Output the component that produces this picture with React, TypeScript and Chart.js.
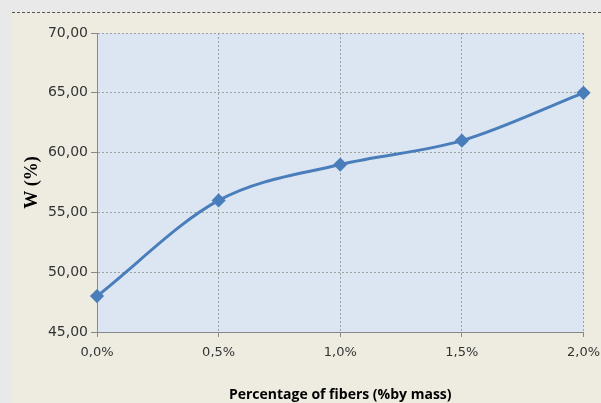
import React, { useEffect, useRef } from "react";
import { Chart, registerables } from "chart.js";

Chart.register(...registerables);

const categories = ["0,0%", "0,5%", "1,0%", "1,5%", "2,0%"];
const wValues = [48, 56, 59, 61, 65];

const plotBg = {
  id: "plotBg",
  beforeDraw(chart: any) {
    const { ctx, chartArea: a } = chart;
    ctx.save();
    ctx.fillStyle = "#dce6f2";
    ctx.fillRect(a.left, a.top, a.right - a.left, a.bottom - a.top);
    ctx.restore();
  },
};

const App = () => {
  const canvasRef = useRef<HTMLCanvasElement | null>(null);

  useEffect(() => {
    const chart = new Chart(canvasRef.current as HTMLCanvasElement, {
      type: "line",
      data: {
        labels: categories,
        datasets: [
          {
            data: wValues,
            borderColor: "#4a7ebb",
            backgroundColor: "#4a7ebb",
            borderWidth: 3,
            tension: 0.4,
            cubicInterpolationMode: "monotone",
            pointStyle: "rectRot",
            pointRadius: 5,
          },
        ],
      },
      options: {
        animation: false,
        responsive: false,
        layout: { padding: { top: 20, right: 0, left: 10, bottom: 0 } },
        plugins: { legend: { display: false }, tooltip: { enabled: false } },
        scales: {
          x: {
            offset: false,
            grid: { color: "#a0a0a0", tickColor: "#888", tickLength: 5 },
            border: { dash: [2, 2], color: "#888" },
            ticks: { color: "#333", font: { family: "DejaVu Sans", size: 13 }, padding: 8 },
            title: {
              display: true,
              text: "Percentage of fibers (%by mass)",
              color: "#000",
              font: { family: "Open Sans", size: 14, weight: "bold" },
              padding: { top: 20, bottom: 0 },
            },
            afterFit: (s: any) => {
              s.height = 71;
            },
          },
          y: {
            min: 45,
            max: 70,
            ticks: {
              stepSize: 5,
              color: "#333",
              font: { family: "DejaVu Sans", size: 14 },
              callback: (v: any) => Number(v).toFixed(2).replace(".", ","),
            },
            grid: { color: "#a0a0a0", tickColor: "#888", tickLength: 6 },
            border: { dash: [2, 2], color: "#888" },
            title: {
              display: true,
              text: "W (%)",
              color: "#000",
              font: { family: "Liberation Serif", size: 18, weight: "bold" },
              padding: { top: 0, bottom: 0 },
            },
            afterFit: (s: any) => {
              s.width = 75;
            },
          },
        },
      },
      plugins: [plotBg],
    } as any);
    return () => chart.destroy();
  }, []);

  return (
    <div style={{ position: "absolute", left: 0, top: 0, width: 601, height: 403, background: "#e9e9e9" }}>
      <div
        style={{
          position: "absolute",
          left: 12,
          top: 12,
          width: 589,
          height: 391,
          background: "#eeece1",
          borderTop: "1px dashed #555",
          boxSizing: "border-box",
          overflow: "hidden",
        }}
      >
        <canvas ref={canvasRef} width={596} height={390} style={{ display: "block" }} />
      </div>
    </div>
  );
};

export default App;
